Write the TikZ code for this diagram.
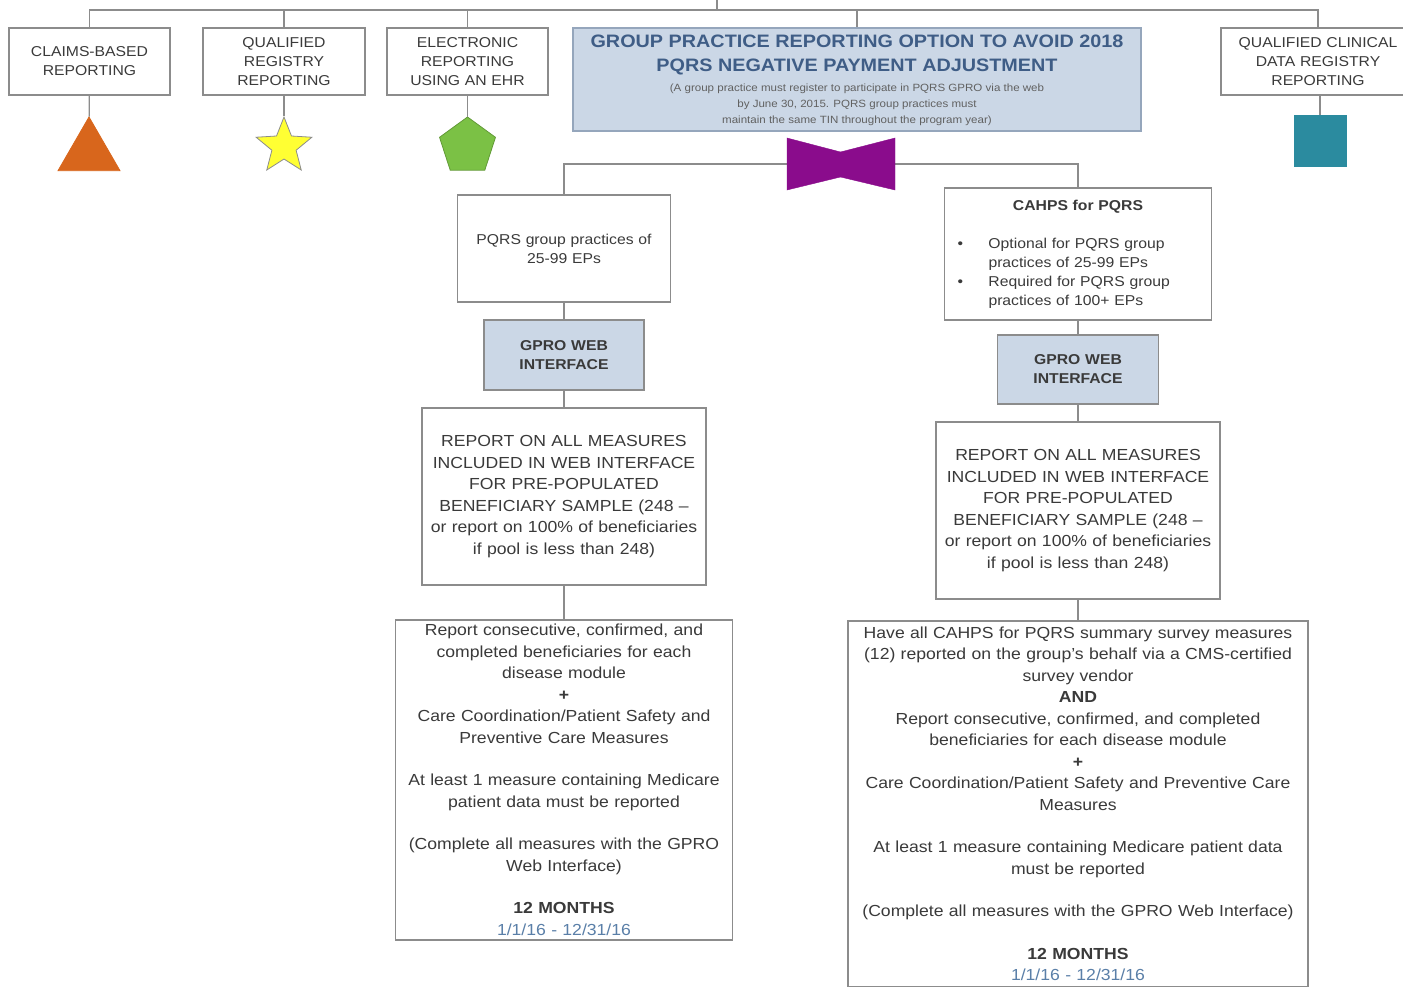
\documentclass[tikz,border=0pt]{standalone}
\usepackage{fontspec}
\setmainfont[FakeStretch=1.1]{Liberation Sans}
\usetikzlibrary{shapes.geometric}

\definecolor{linegray}{HTML}{8C8C8C}
\definecolor{textgray}{HTML}{3A3A3A}
\definecolor{boxblue}{HTML}{CBD7E6}
\definecolor{titleblue}{HTML}{3F5D86}
\definecolor{dateblue}{HTML}{5A7FA8}
\definecolor{triorange}{HTML}{D8661C}
\definecolor{staryellow}{HTML}{FFFF33}
\definecolor{pentgreen}{HTML}{7BC145}
\definecolor{sqteal}{HTML}{2B8B9F}
\definecolor{bowpurple}{HTML}{8A0C8C}

\tikzset{
  conn/.style={draw=linegray, line width=1.2pt},
  optbox/.style={draw=linegray, line width=1.2pt, fill=white, inner sep=0pt,
    align=center, text=textgray, font=\fontsize{14.3}{19}\selectfont},
  webbox/.style={optbox, fill=boxblue, font=\fontsize{14.3}{19}\selectfont\bfseries},
  bigbox/.style={optbox, font=\fontsize{16}{21.5}\selectfont},
  mark shape/.style={inner sep=0pt, line width=0.8pt}
}

\begin{document}
\begin{tikzpicture}[x=1pt, y=-1pt]
			%%%%% START %%%%%
			\useasboundingbox (0, 0) rectangle (1403, 987);
			
			% top row of reporting options
			\coordinate (trunk) at (717, 0);
			\node[optbox, minimum width=161, minimum height=67, text width=155] (claims) at (89.5, 61.5) {CLAIMS-BASED\\REPORTING};
			\node[optbox, minimum width=162, minimum height=67, text width=156] (qreg) at (284, 61.5) {QUALIFIED\\REGISTRY\\REPORTING};
			\node[optbox, minimum width=161, minimum height=67, text width=155] (ehr) at (467.5, 61.5) {ELECTRONIC\\REPORTING\\USING AN EHR};
			\node[optbox, draw=titleblue!55, fill=boxblue, minimum width=568, minimum height=103, text width=560] (gpro) at (857, 79.5)
				{{\fontsize{18}{24}\selectfont\spaceskip=0pt\xspaceskip=0pt\begin{tabular}{@{}c@{}}\color{titleblue}\bfseries GROUP PRACTICE REPORTING OPTION TO AVOID 2018\\\color{titleblue}\bfseries PQRS NEGATIVE PAYMENT ADJUSTMENT\end{tabular}\par}
				 {\fontsize{10.5}{16}\selectfont\spaceskip=0pt\xspaceskip=0pt\color{textgray!80}\begin{tabular}{@{}c@{}}(A group practice must register to participate in PQRS GPRO via the web\\by June 30, 2015. PQRS group practices must\\maintain the same TIN throughout the program year)\end{tabular}\par}};
			\node[optbox, minimum width=194, minimum height=67, text width=188] (qcdr) at (1318, 61.5) {QUALIFIED CLINICAL\\DATA REGISTRY\\REPORTING};
			
			\draw[conn] (trunk) -- ++(0, 10) -| (claims);
			\draw[conn] (trunk) -- ++(0, 10) -| (qreg);
			\draw[conn] (trunk) -- ++(0, 10) -| (ehr);
			\draw[conn] (trunk) -- ++(0, 10) -| (gpro);
			\draw[conn] (trunk) -- ++(0, 10) -| (qcdr);
			
			% symbols under the options
			\node[mark shape, regular polygon, regular polygon sides=3, minimum size=71.6, fill=triorange, draw=triorange] (tri) at (89, 152.8) {};
			\node[mark shape, star, star points=5, star point ratio=2.3, minimum size=58.6, fill=staryellow, draw=black!45] (star) at (284, 146.3) {};
			\node[mark shape, regular polygon, regular polygon sides=5, minimum size=58.8, fill=pentgreen, draw=pentgreen!80!black] (pent) at (467.5, 146.4) {};
			\node[mark shape, rectangle, minimum width=52, minimum height=51, fill=sqteal, draw=sqteal] (sq) at (1320, 140.5) {};
			
			\draw[conn] (claims) -- (tri);
			\draw[conn] (qreg) -- (star);
			\draw[conn] (ehr) -- (pent);
			\draw[conn] (qcdr.south -| sq) -- (sq);
			
			% left branch
			\node[optbox, minimum width=213, minimum height=107, text width=205] (small) at (564, 248.5) {PQRS group practices of\\25-99 EPs};
			\node[webbox, minimum width=160, minimum height=70, text width=154] (webL) at (564, 355) {GPRO WEB\\INTERFACE};
			\node[bigbox, minimum width=284, minimum height=177, text width=280] (repL) at (564, 496.5)
				{REPORT ON ALL MEASURES\\INCLUDED IN WEB INTERFACE\\FOR PRE-POPULATED\\BENEFICIARY SAMPLE (248 --\\or report on 100\% of beneficiaries\\if pool is less than 248)};
			\node[bigbox, minimum width=337, minimum height=320, text width=333] (botL) at (564, 780)
				{Report consecutive, confirmed, and\\completed beneficiaries for each\\disease module\\\textbf{+}\\Care Coordination/Patient Safety and\\Preventive Care Measures\\[21pt]
				 At least 1 measure containing Medicare\\patient data must be reported\\[21pt]
				 (Complete all measures with the GPRO\\Web Interface)\\[21pt]
				 \textbf{12 MONTHS}\\\textcolor{dateblue}{1/1/16 - 12/31/16}};
			
			% right branch
			\node[optbox, minimum width=267, minimum height=132, text width=241, align=left] (cahps) at (1078, 254)
				{\makebox[241pt]{\textbf{CAHPS for PQRS}}\\[19pt]
				 \makebox[31pt][l]{\textbullet}Optional for PQRS group\\
				 \makebox[31pt]{}practices of 25-99 EPs\\
				 \makebox[31pt][l]{\textbullet}Required for PQRS group\\
				 \makebox[31pt]{}practices of 100+ EPs};
			\node[webbox, minimum width=161, minimum height=69, text width=155] (webR) at (1078, 369.5) {GPRO WEB\\INTERFACE};
			\node[bigbox, minimum width=284, minimum height=177, text width=280] (repR) at (1078, 510.5)
				{REPORT ON ALL MEASURES\\INCLUDED IN WEB INTERFACE\\FOR PRE-POPULATED\\BENEFICIARY SAMPLE (248 --\\or report on 100\% of beneficiaries\\if pool is less than 248)};
			\node[bigbox, minimum width=460, minimum height=366, text width=456] (botR) at (1078, 804)
				{Have all CAHPS for PQRS summary survey measures\\(12) reported on the group's behalf via a CMS-certified\\survey vendor\\\textbf{AND}\\Report consecutive, confirmed, and completed\\beneficiaries for each disease module\\\textbf{+}\\Care Coordination/Patient Safety and Preventive Care\\Measures\\[21pt]
				 At least 1 measure containing Medicare patient data\\must be reported\\[21pt]
				 (Complete all measures with the GPRO Web Interface)\\[21pt]
				 \textbf{12 MONTHS}\\\textcolor{dateblue}{1/1/16 - 12/31/16}};
			
			% split under the bow tie
			\coordinate (bow) at (840.5, 164);
			\draw[conn] (small) |- (bow) -| (cahps);
			\draw[fill=bowpurple, draw=bowpurple] (787, 138) -- (840.5, 152) -- (895, 138) -- (895, 190) -- (840.5, 177) -- (787, 190) -- cycle;
			
			\draw[conn] (small) -- (webL) -- (repL) -- (botL);
			\draw[conn] (cahps) -- (webR) -- (repR) -- (botR);
			%%%%% END %%%%%
\end{tikzpicture}
\end{document}
